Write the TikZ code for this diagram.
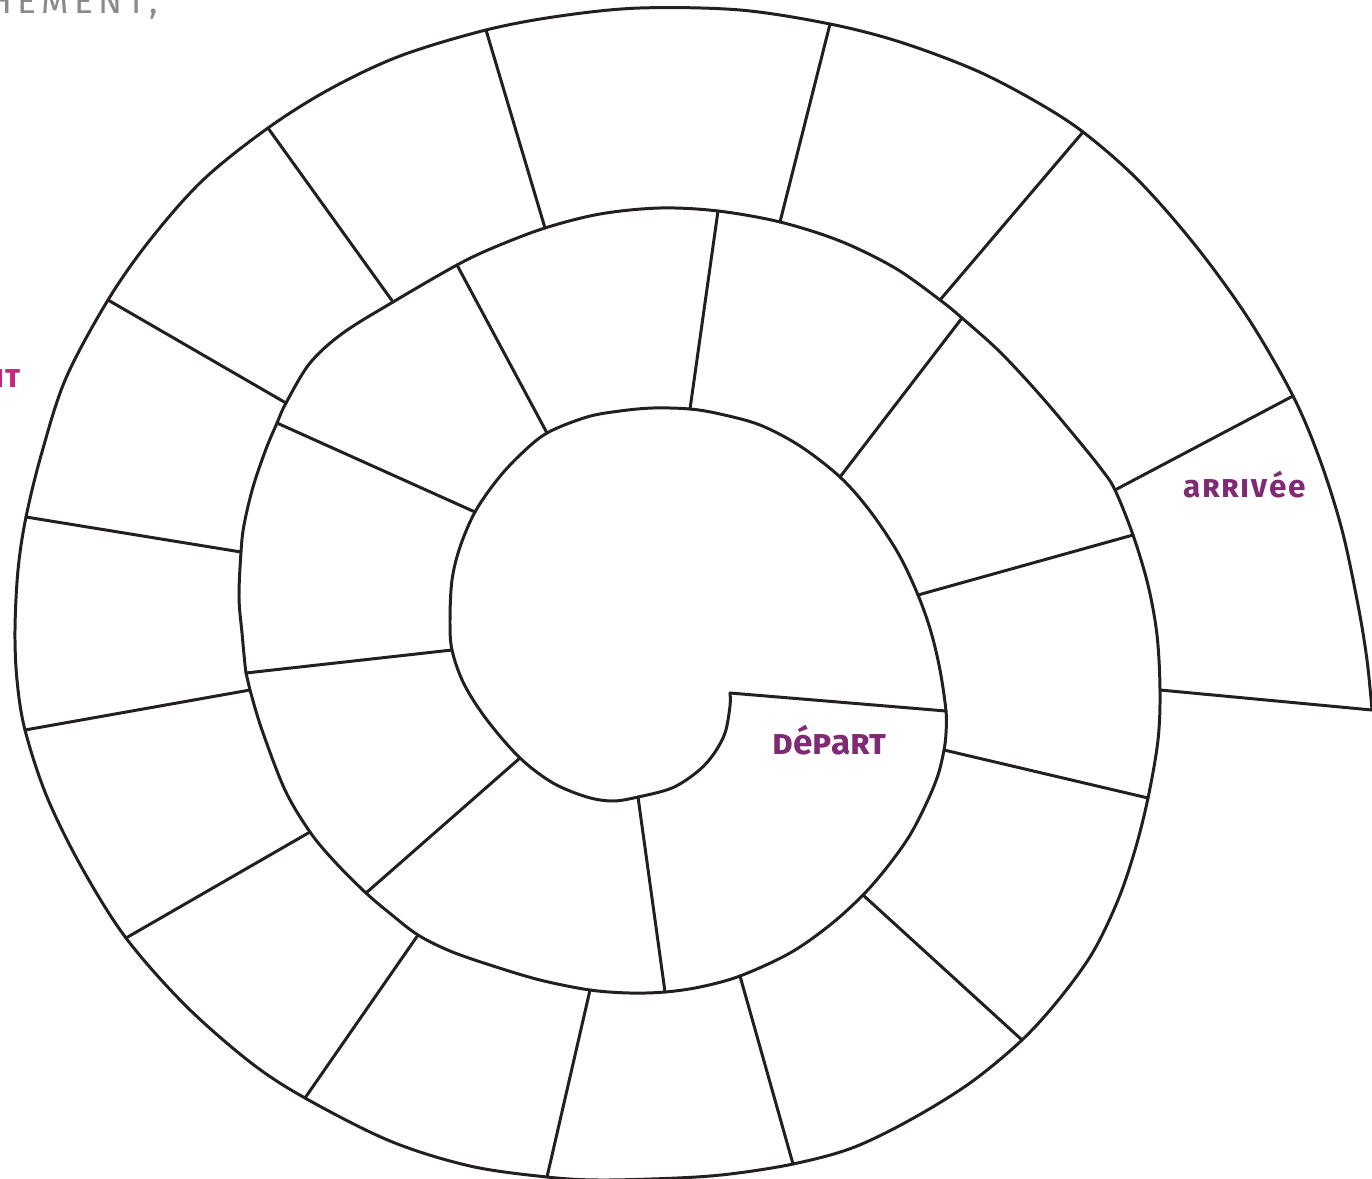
\documentclass[tikz,border=0pt]{standalone}
\usepackage{fontspec}
\usepackage{xcolor}
\usepackage{tikz}
\newfontfamily\gamefont{Fira Sans}
\newfontfamily\widegamefont{Fira Sans}[LetterSpace=5]
\definecolor{trackink}{HTML}{231F20}
\definecolor{gamepurple}{HTML}{7F2A72}
\definecolor{gamepink}{HTML}{C2287B}
\definecolor{titlegray}{HTML}{8A8A8E}
\tikzset{
    track/.style={
        draw=trackink,
        line width=1.7pt,
        line join=round,
        line cap=round
    },
    stagelabel/.style={
        text=gamepurple,
        inner sep=0pt,
        font=\gamefont\bfseries\fontsize{#1}{#1}\selectfont
    },
    widelabel/.style={
        text=gamepurple,
        inner sep=0pt,
        font=\widegamefont\bfseries\fontsize{#1}{#1}\selectfont
    },
    cutlabel/.style={
        text=titlegray,
        inner sep=0pt,
        font=\gamefont\fontsize{20}{20}\selectfont\addfontfeature{LetterSpace=15}
    }
}

\begin{document}
\begin{tikzpicture}[x=0.02cm, y=-0.02cm]
\useasboundingbox (0,0) rectangle (1372,1179);
\fill[white] (0,0) rectangle (1372,1179);

% spiral track, from start to finish
\draw[track] plot[smooth, tension=0.55] coordinates {
    (730,693) (730,706) (725,733) (713,755) (697,772) (672,788) (638,797)
    (613,801) (587,797) (553,783) (520,758) (487,720) (464,684) (452,650)
    (450,620) (452,580) (460,547) (475,512) (497,480) (520,455) (547,433)
    (587,417) (620,411) (653,408) (690,409) (720,414) (760,425) (800,446)
    (840,477) (870,511) (898,553) (918,595) (931,632) (940,670) (946,711)
    (946,733) (944,750) (938,775) (927,802) (910,835) (888,866) (863,895)
    (830,925) (790,953) (740,976) (700,987) (665,992) (630,993) (590,990)
    (540,980) (490,965) (450,951) (418,935) (392,915) (366,893) (335,862)
    (310,832) (285,790) (262,730) (250,690) (246,673) (242,633) (239,597)
    (241,552) (244,525) (253,487) (266,449) (277,423) (286,403) (310,363)
    (343,333) (393,302) (457,265) (495,247) (545,228) (600,214) (660,208)
    (718,211) (780,222) (840,241) (895,268) (940,300) (962,318) (1000,352)
    (1040,395) (1078,440) (1102,470) (1115,490) (1133,535) (1148,585)
    (1157,635) (1160,690) (1158,740) (1148,798) (1135,850) (1118,900)
    (1093,952) (1060,998) (1022,1040) (970,1083) (910,1120) (852,1148)
    (793,1164) (730,1174) (677,1178) (600,1180) (547,1177) (470,1166)
    (390,1141) (305,1098) (250,1062) (185,1005) (126,938) (82,868) (47,797)
    (25,730) (17,680) (15,630) (18,570) (26,517) (42,452) (66,378) (108,300)
    (150,240) (203,180) (268,128) (330,89) (400,56) (486,30) (560,16)
    (640,8) (740,10) (830,24) (900,42) (975,70) (1035,101) (1083,132)
    (1138,180) (1195,245) (1248,318) (1293,396) (1320,460) (1342,530)
    (1358,605) (1367,660) (1372,710)
};

% walls between the squares
\foreach \xa/\ya/\xb/\yb in {
    730/693/946/711, 638/797/665/992, 520/758/366/893, 452/650/246/673,
    475/512/277/423, 547/433/457/265, 690/409/718/211, 840/477/962/318,
    918/595/1133/535, 944/750/1148/798, 863/895/1022/1040, 740/976/793/1164,
    590/990/547/1177, 418/935/305/1098, 310/832/126/938, 250/690/25/730,
    241/552/26/517, 286/403/108/300, 393/302/268/128, 545/228/486/30,
    780/222/830/24, 940/300/1083/132, 1115/490/1293/396, 1160/690/1372/710
} {
    \draw[track] (\xa,\ya) -- (\xb,\yb);
}

\node[stagelabel=20, anchor=base west] (depart) at (772,754) {\textsc{d}é\textsc{p}a\textsc{rt}};
\node[widelabel=18, anchor=base west] (arrivee) at (1183,497) {a\textsc{rriv}ée};
\node[widelabel=18, text=gamepink, anchor=base east] (sidecut) at (23,387) {\textsc{it}};
\node[cutlabel, anchor=base east] (titlecut) at (158,14) {HEMENT,};
\end{tikzpicture}
\end{document}
